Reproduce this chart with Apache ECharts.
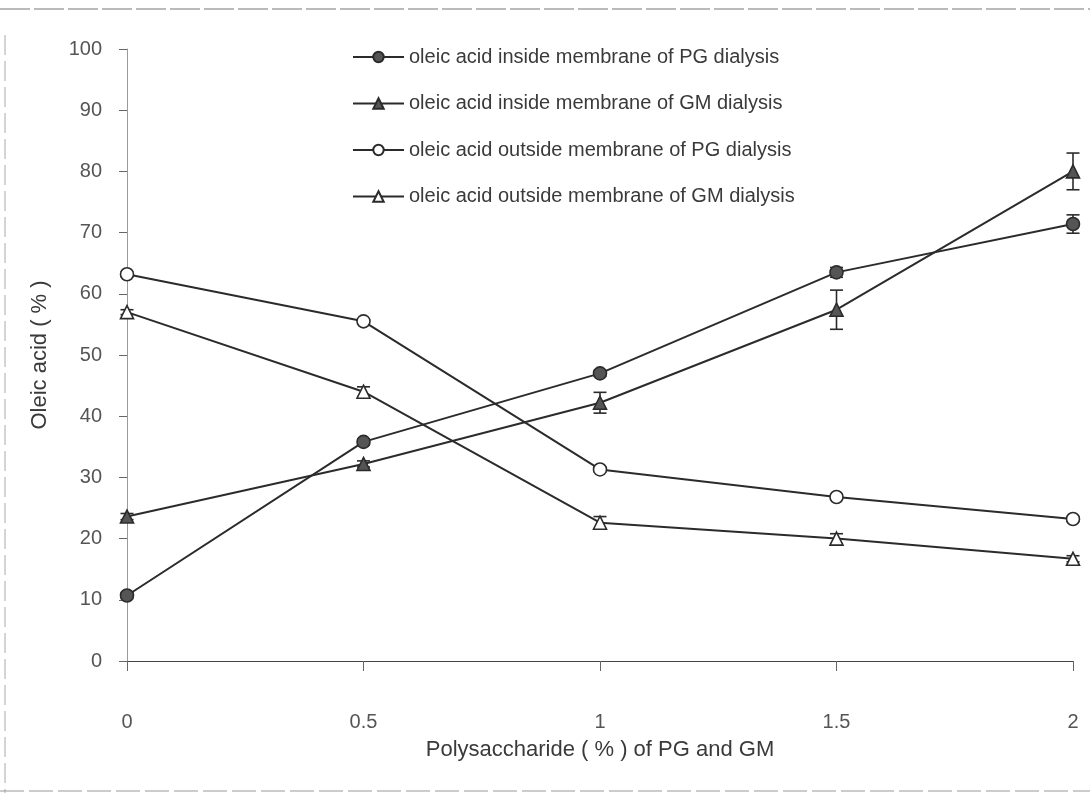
<!DOCTYPE html>
<html>
<head>
<meta charset="utf-8">
<script src="https://cdn.jsdelivr.net/npm/echarts@6/dist/echarts.min.js"></script>
<style>
html,body{margin:0;padding:0;background:#fff;}
#chart{width:1090px;height:793px;}
</style>
</head>
<body>
<div id="chart"></div>
<script>
// Data
const xValues = [0, 0.5, 1, 1.5, 2];
const xTickLabels = ['0', '0.5', '1', '1.5', '2'];
const seriesNames = [
  'oleic acid inside membrane of PG dialysis',
  'oleic acid inside membrane of GM dialysis',
  'oleic acid outside membrane of PG dialysis',
  'oleic acid outside membrane of GM dialysis'
];
const pgInside = [10.7, 35.8, 47.0, 63.5, 71.4];
const gmInside = [23.6, 32.2, 42.2, 57.4, 80.0];
const pgOutside = [63.2, 55.5, 31.3, 26.8, 23.2];
const gmOutside = [57.0, 44.0, 22.6, 20.0, 16.7];
const pgInsideErr = [0.5, 0.5, 0.5, 0.8, 1.5];
const gmInsideErr = [0.5, 0.5, 1.7, 3.2, 3.0];
const pgOutsideErr = [0.4, 0.4, 0.4, 0.4, 0.4];
const gmOutsideErr = [0.4, 0.8, 1.0, 0.8, 0.5];

const FONT = 'Liberation Sans, Arial, sans-serif';
const TXT = '#3a3a3a';
const LINE = '#2b2b2b';
const FILL = '#555555';

function pairs(vals) { return xValues.map((x, i) => [x, vals[i]]); }
function errData(vals, errs) { return xValues.map((x, i) => [x, vals[i] - errs[i], vals[i] + errs[i]]); }

function errSeries(vals, errs) {
  return {
    type: 'custom',
    silent: true,
    z: 1,
    data: errData(vals, errs),
    renderItem: function (params, api) {
      const x = api.value(0);
      const lo = api.coord([x, api.value(1)]);
      const hi = api.coord([x, api.value(2)]);
      const hw = 6.5;
      const st = { stroke: LINE, lineWidth: 1.6 };
      return {
        type: 'group',
        children: [
          { type: 'line', shape: { x1: lo[0], y1: lo[1], x2: hi[0], y2: hi[1] }, style: st },
          { type: 'line', shape: { x1: lo[0] - hw, y1: lo[1], x2: lo[0] + hw, y2: lo[1] }, style: st },
          { type: 'line', shape: { x1: hi[0] - hw, y1: hi[1], x2: hi[0] + hw, y2: hi[1] }, style: st }
        ]
      };
    }
  };
}

function lineSeries(name, vals, symbol, filled) {
  return {
    name: name,
    type: 'line',
    z: 3,
    data: pairs(vals),
    symbol: symbol,
    symbolSize: symbol === 'triangle' ? 13 : 13,
    showAllSymbol: true,
    lineStyle: { color: LINE, width: 2 },
    itemStyle: { color: filled ? FILL : '#ffffff', borderColor: LINE, borderWidth: 1.6 },
    emphasis: { disabled: true },
    animation: false
  };
}

const chart = echarts.init(document.getElementById('chart'), null, { renderer: 'canvas' });
chart.setOption({
  backgroundColor: '#ffffff',
  animation: false,
  textStyle: { fontFamily: FONT },
  grid: { left: 127, right: 17, top: 49, bottom: 132 },
  legend: {
    data: seriesNames,
    orient: 'vertical',
    left: 347,
    top: 42,
    itemWidth: 51,
    itemHeight: 13,
    itemGap: 26.5,
    textStyle: { fontSize: 20, color: TXT, fontFamily: FONT, lineHeight: 20 },
    selectedMode: false
  },
  xAxis: {
    type: 'value',
    min: 0,
    max: 2,
    interval: 0.5,
    name: 'Polysaccharide ( % ) of PG and GM',
    nameLocation: 'middle',
    nameGap: 78,
    nameTextStyle: { fontSize: 22, color: TXT, fontFamily: FONT },
    axisLine: { show: true, lineStyle: { color: '#444', width: 1.2 } },
    axisTick: { show: true, length: 10, lineStyle: { color: '#666' } },
    axisLabel: {
      margin: 51, fontSize: 20, color: '#555', fontFamily: FONT,
      formatter: function (v) { const i = xValues.indexOf(v); return i >= 0 ? xTickLabels[i] : ''; }
    },
    splitLine: { show: false }
  },
  yAxis: {
    type: 'value',
    min: 0,
    max: 100,
    interval: 10,
    name: 'Oleic acid ( % )',
    nameLocation: 'middle',
    nameGap: 76,
    nameRotate: 90,
    nameTextStyle: { fontSize: 22, color: TXT, fontFamily: FONT },
    axisLine: { show: true, lineStyle: { color: '#9a9a9a', width: 1 } },
    axisTick: { show: true, length: 8, lineStyle: { color: '#666' } },
    axisLabel: { margin: 25, fontSize: 20, color: '#555', fontFamily: FONT },
    splitLine: { show: false }
  },
  graphic: [
    { type: 'line', shape: { x1: 0, y1: 9, x2: 1090, y2: 9 }, style: { stroke: '#777', lineWidth: 1.2, lineDash: [30, 4] }, silent: true },
    { type: 'line', shape: { x1: 5, y1: 35, x2: 5, y2: 793 }, style: { stroke: '#aaa', lineWidth: 1, lineDash: [20, 6] }, silent: true },
    { type: 'line', shape: { x1: 0, y1: 791, x2: 1090, y2: 791 }, style: { stroke: '#999', lineWidth: 1, lineDash: [24, 5] }, silent: true }
  ],
  series: [
    errSeries(pgInside, pgInsideErr),
    errSeries(gmInside, gmInsideErr),
    errSeries(pgOutside, pgOutsideErr),
    errSeries(gmOutside, gmOutsideErr),
    lineSeries(seriesNames[0], pgInside, 'circle', true),
    lineSeries(seriesNames[1], gmInside, 'triangle', true),
    lineSeries(seriesNames[2], pgOutside, 'circle', false),
    lineSeries(seriesNames[3], gmOutside, 'triangle', false)
  ]
});
</script>
</body>
</html>
